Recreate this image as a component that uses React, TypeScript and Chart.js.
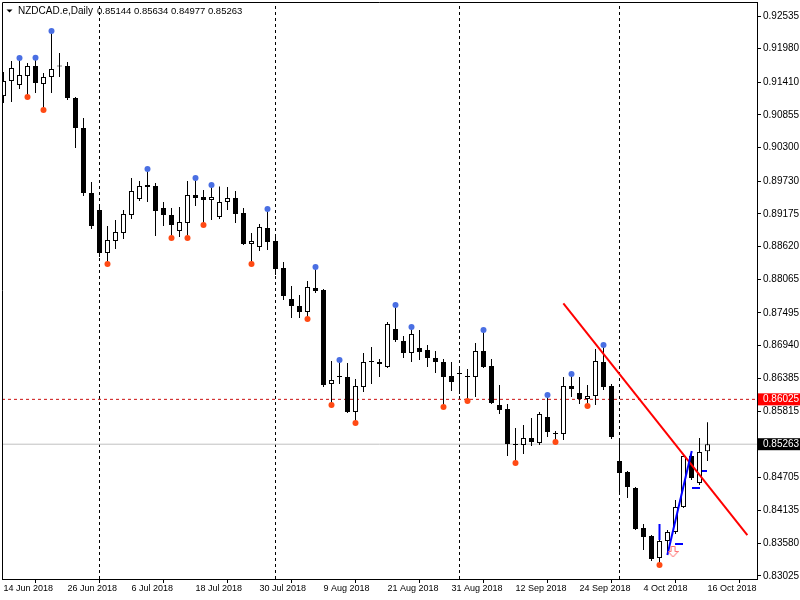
import React, { useEffect, useRef } from "react";
import { Chart, registerables } from "chart.js";

Chart.register(...registerables);

const symbolTitle = "NZDCAD.e,Daily";
const titleValues = "0.85144 0.85634 0.84977 0.85263";

const opens = [
  0.91176, 0.91431, 0.91363, 0.91516, 0.91686, 0.9138, 0.91499, 0.91694, 0.91686, 0.91142,
  0.90633, 0.89529, 0.8924, 0.8851, 0.88714, 0.8885, 0.89156, 0.89427, 0.89665, 0.89648,
  0.89274, 0.89156, 0.88884, 0.8902, 0.89495, 0.89461, 0.8941, 0.89122, 0.89376, 0.89444,
  0.8919, 0.88663, 0.88612, 0.88935, 0.88714, 0.88256, 0.87729, 0.8761, 0.87508, 0.87916,
  0.87882, 0.86286, 0.86404, 0.86404, 0.8581, 0.86235, 0.86659, 0.86659, 0.86574, 0.8722,
  0.87016, 0.86812, 0.86897, 0.86863, 0.86727, 0.86659, 0.86421, 0.86455, 0.86421, 0.86404,
  0.86846, 0.86591, 0.85929, 0.85861, 0.85267, 0.8525, 0.85369, 0.85284, 0.85725, 0.85454,
  0.85437, 0.86252, 0.86133, 0.86031, 0.86082, 0.86659, 0.86252, 0.84978, 0.84791, 0.84519,
  0.8384, 0.83704, 0.83331, 0.83619, 0.83772, 0.84197, 0.85063, 0.84604, 0.85144,
];
const highs = [
  0.91584, 0.91771, 0.91822, 0.91737, 0.91827, 0.91567, 0.9228, 0.91907, 0.91754, 0.91159,
  0.90803, 0.89716, 0.89308, 0.88969, 0.89071, 0.8924, 0.89784, 0.89733, 0.89937, 0.89699,
  0.89376, 0.89274, 0.89291, 0.89733, 0.89784, 0.8958, 0.89665, 0.8964, 0.89631, 0.89563,
  0.89274, 0.8885, 0.89003, 0.89257, 0.88799, 0.88357, 0.8795, 0.87797, 0.88035, 0.88273,
  0.87899, 0.86676, 0.86693, 0.86642, 0.8637, 0.86812, 0.86914, 0.8671, 0.87338, 0.87627,
  0.87101, 0.87254, 0.87203, 0.86948, 0.86846, 0.8671, 0.86659, 0.86557, 0.8654, 0.86982,
  0.87203, 0.8671, 0.86269, 0.85946, 0.85538, 0.85589, 0.85708, 0.8581, 0.86099, 0.85487,
  0.86404, 0.86455, 0.86404, 0.86269, 0.8688, 0.86948, 0.86286, 0.85318, 0.84808, 0.84536,
  0.83908, 0.83721, 0.83636, 0.83806, 0.84316, 0.8508, 0.85148, 0.85369, 0.85634,
];
const lows = [
  0.91058, 0.91074, 0.91295, 0.91159, 0.91227, 0.90939, 0.91227, 0.91499, 0.91108, 0.90293,
  0.89478, 0.88918, 0.88442, 0.88323, 0.88578, 0.88748, 0.89088, 0.89393, 0.89376, 0.88799,
  0.88969, 0.88765, 0.88782, 0.88765, 0.89308, 0.88986, 0.89071, 0.89088, 0.8924, 0.8902,
  0.88646, 0.88323, 0.88544, 0.88561, 0.88137, 0.87712, 0.87406, 0.87406, 0.87389, 0.87831,
  0.86235, 0.85929, 0.86286, 0.85793, 0.85623, 0.8615, 0.86286, 0.86404, 0.86557, 0.86999,
  0.86727, 0.86659, 0.86693, 0.86574, 0.86472, 0.85895, 0.86167, 0.86116, 0.85997, 0.86065,
  0.86557, 0.85946, 0.85776, 0.85063, 0.84944, 0.85097, 0.85233, 0.8525, 0.85386, 0.85301,
  0.85335, 0.86065, 0.85946, 0.85912, 0.85929, 0.86184, 0.85352, 0.84452, 0.8435, 0.83806,
  0.83467, 0.8328, 0.83212, 0.83399, 0.83738, 0.8418, 0.84655, 0.8457, 0.84977,
];
const closes = [
  0.91431, 0.91652, 0.91533, 0.91686, 0.91397, 0.91499, 0.91635, 0.91677, 0.91142, 0.90633,
  0.89529, 0.88969, 0.8851, 0.88731, 0.88867, 0.89173, 0.89563, 0.89648, 0.89631, 0.89223,
  0.89156, 0.88986, 0.89037, 0.89495, 0.89444, 0.8941, 0.89461, 0.89376, 0.89444, 0.89173,
  0.88663, 0.88714, 0.88952, 0.88697, 0.88239, 0.8778, 0.8761, 0.87508, 0.87933, 0.87865,
  0.86269, 0.86353, 0.86404, 0.8581, 0.86252, 0.86659, 0.86659, 0.86625, 0.87305, 0.87033,
  0.86812, 0.87135, 0.86829, 0.86727, 0.86659, 0.86404, 0.8632, 0.86455, 0.86404, 0.86846,
  0.86574, 0.85963, 0.85844, 0.85267, 0.8525, 0.85369, 0.85301, 0.85776, 0.8547, 0.85437,
  0.86252, 0.86201, 0.86031, 0.86082, 0.86676, 0.86235, 0.85386, 0.84774, 0.84536, 0.83823,
  0.83687, 0.83314, 0.83619, 0.83772, 0.84197, 0.85063, 0.84689, 0.85131, 0.85263,
];

const yTickValues = [
  0.92535, 0.9198, 0.9141, 0.90855, 0.903, 0.8973, 0.89175, 0.8862, 0.88065, 0.87495,
  0.8694, 0.86385, 0.86025, 0.85815, 0.85263, 0.84705, 0.84135, 0.8358, 0.83025,
];
const levelPrice = 0.86025;
const bidPrice = 0.85263;

const xTickIndex = [0, 8, 16, 24, 32, 40, 48, 56, 64, 72, 80, 88];
const xTickLabels = [
  "14 Jun 2018", "26 Jun 2018", "6 Jul 2018", "18 Jul 2018", "30 Jul 2018", "9 Aug 2018",
  "21 Aug 2018", "31 Aug 2018", "12 Sep 2018", "24 Sep 2018", "4 Oct 2018", "16 Oct 2018",
];
const monthStartIndex = [12, 34, 57, 77];

const upFractalIndex = [2, 4, 6, 18, 24, 26, 33, 39, 42, 49, 51, 60, 68, 71, 75];
const downFractalIndex = [3, 5, 13, 21, 23, 25, 31, 38, 41, 44, 55, 58, 64, 69, 73, 82];

const trendX = [69.98, 92.98];
const trendY = [0.87656, 0.83721];
const signalLineX = [82.98, 86.03];
const signalLineY = [0.83382, 0.85148];
const signalWickX = [82, 82];
const signalWickY = [0.83908, 0.83636];
const stopDashX = [
  [83.94, 84.94],
  [86.06, 87.06],
  [87.31, 87.94],
];
const stopDashY = [0.83568, 0.84519, 0.84808];
const arrowX = [83.69];
const arrowY = [0.83433];

const X_MIN = -0.1875;
const X_MAX = 94.1875;
const Y_MIN = 0.82974;
const Y_MAX = 0.92773;

const FONT = '"Liberation Sans", Arial, sans-serif';

function makeArrowImage(): HTMLCanvasElement {
  const c = document.createElement("canvas");
  c.width = 11;
  c.height = 12;
  const g = c.getContext("2d")!;
  g.beginPath();
  g.moveTo(3.5, 0.5);
  g.lineTo(7.5, 0.5);
  g.lineTo(7.5, 5.5);
  g.lineTo(10.5, 5.5);
  g.lineTo(5.5, 11);
  g.lineTo(0.5, 5.5);
  g.lineTo(3.5, 5.5);
  g.closePath();
  g.fillStyle = "#ffffff";
  g.fill();
  g.strokeStyle = "#ff6a6a";
  g.lineWidth = 1;
  g.stroke();
  return c;
}

const framePlugin = {
  id: "mtFrame",
  afterDraw(chart: any) {
    const { ctx, chartArea } = chart;
    ctx.save();
    ctx.strokeStyle = "#000";
    ctx.lineWidth = 1;
    ctx.beginPath();
    ctx.moveTo(chartArea.left + 0.5, chartArea.bottom);
    ctx.lineTo(chartArea.left + 0.5, chartArea.top + 0.5);
    ctx.lineTo(chartArea.right, chartArea.top + 0.5);
    ctx.stroke();
    ctx.fillStyle = "#000";
    ctx.beginPath();
    ctx.moveTo(6.5, 9.5);
    ctx.lineTo(12.5, 9.5);
    ctx.lineTo(9.5, 12.5);
    ctx.closePath();
    ctx.fill();
    ctx.textBaseline = "middle";
    ctx.textAlign = "left";
    ctx.font = `10px ${FONT}`;
    ctx.fillText(symbolTitle, 18, 11);
    ctx.font = `9.5px ${FONT}`;
    ctx.fillText(titleValues, 97, 11);
    ctx.restore();
  },
};

function lineDs(xs: number[], ys: number[], color: string, width: number, order: number, dash: number[] = []) {
  return {
    type: "line" as const,
    data: xs.map((x, i) => ({ x, y: ys[i] })),
    borderColor: color,
    borderWidth: width,
    borderDash: dash,
    pointRadius: 0,
    tension: 0,
    fill: false,
    order,
  };
}

function zeroPadding(s: any) {
  s.paddingLeft = 0;
  s.paddingRight = 0;
  s.paddingTop = 0;
  s.paddingBottom = 0;
}

export default function App() {
  const ref = useRef<HTMLCanvasElement | null>(null);

  useEffect(() => {
    if (!ref.current) return;
    const idx = opens.map((_, i) => i);
    const arrowImg = makeArrowImage();
    const special = (v: number) => v === levelPrice || v === bidPrice;

    const datasets: any[] = [
      ...monthStartIndex.map((m) => lineDs([m, m], [Y_MIN, Y_MAX], "#000000", 1, 22, [3, 3])),
      lineDs([X_MIN, X_MAX], [bidPrice, bidPrice], "#c0c0c0", 1, 20),
      lineDs([X_MIN, X_MAX], [levelPrice, levelPrice], "#cc1111", 1, 19, [3, 3]),
      {
        type: "bar",
        data: idx.map((i) => ({ x: i, y: [lows[i], highs[i]] })),
        backgroundColor: "#000",
        borderWidth: 0,
        barThickness: 1,
        maxBarThickness: 1,
        grouped: false,
        inflateAmount: 0,
        order: 18,
      },
      {
        type: "bar",
        data: idx.map((i) => ({ x: i, y: [opens[i], closes[i]] })),
        backgroundColor: idx.map((i) => (closes[i] >= opens[i] ? "#ffffff" : "#000000")),
        borderColor: "#000",
        borderWidth: 1,
        borderSkipped: false,
        barThickness: 5,
        maxBarThickness: 5,
        minBarLength: 1,
        grouped: false,
        inflateAmount: 0,
        order: 17,
      },
      lineDs(trendX, trendY, "#ff0000", 2, 10),
      lineDs(signalWickX, signalWickY, "#0000ff", 2, 9),
      lineDs(signalLineX, signalLineY, "#0000ff", 2, 9),
      ...stopDashX.map((xs, i) => lineDs(xs, [stopDashY[i], stopDashY[i]], "#0000ff", 2, 9)),
      {
        type: "line",
        data: upFractalIndex.map((i) => ({ x: i, y: highs[i] })),
        showLine: false,
        pointRadius: 3,
        pointBackgroundColor: "#4a6fe3",
        pointBorderWidth: 0,
        order: 5,
      },
      {
        type: "line",
        data: downFractalIndex.map((i) => ({ x: i, y: lows[i] })),
        showLine: false,
        pointRadius: 3,
        pointBackgroundColor: "#ff4a14",
        pointBorderWidth: 0,
        order: 5,
      },
      {
        type: "line",
        data: arrowX.map((x, i) => ({ x, y: arrowY[i] })),
        showLine: false,
        pointRadius: 6,
        pointStyle: arrowImg,
        order: 4,
      },
    ];

    const chart = new Chart(ref.current, {
      type: "bar",
      data: { datasets },
      plugins: [framePlugin],
      options: {
        animation: false,
        responsive: false,
        devicePixelRatio: 1,
        events: [],
        layout: { autoPadding: false, padding: { top: 2, left: 2, right: 0, bottom: 0 } },
        plugins: { legend: { display: false }, tooltip: { enabled: false }, title: { display: false } },
        scales: {
          x: {
            type: "linear",
            position: "bottom",
            min: X_MIN,
            max: X_MAX,
            offset: false,
            afterBuildTicks: (s: any) => {
              s.ticks = xTickIndex.map((v) => ({ value: v }));
            },
            afterFit: (s: any) => {
              s.height = 21;
              zeroPadding(s);
            },
            ticks: {
              autoSkip: false,
              maxRotation: 0,
              minRotation: 0,
              align: "start",
              padding: 0,
              color: "#000",
              font: { family: FONT, size: 9 },
              callback: (_v: any, i: number) => xTickLabels[i],
            },
            grid: { drawOnChartArea: false, drawTicks: true, tickLength: 4, color: "#000" },
            border: { display: true, color: "#000", width: 1 },
          },
          y: {
            type: "linear",
            position: "right",
            min: Y_MIN,
            max: Y_MAX,
            afterBuildTicks: (s: any) => {
              s.ticks = yTickValues.map((v) => ({ value: v }));
            },
            afterFit: (s: any) => {
              s.width = 43;
              zeroPadding(s);
            },
            ticks: {
              autoSkip: false,
              padding: 2,
              font: { family: FONT, size: 10 },
              color: (c: any) => (c.tick && special(c.tick.value) ? "#ffffff" : "#000000"),
              showLabelBackdrop: (c: any) => !!(c.tick && special(c.tick.value)),
              backdropColor: (c: any) =>
                c.tick && c.tick.value === levelPrice ? "#ff0000" : c.tick && c.tick.value === bidPrice ? "#000000" : "rgba(0,0,0,0)",
              backdropPadding: { left: 5, right: 6, top: 0, bottom: 0 },
              callback: (v: any) => Number(v).toFixed(5),
            },
            grid: { drawOnChartArea: false, drawTicks: true, tickLength: 4, color: "#000" },
            border: { display: true, color: "#000", width: 1 },
          },
        },
      } as any,
    });
    return () => chart.destroy();
  }, []);

  return (
    <div style={{ position: "fixed", left: 0, top: 0, width: 800, height: 600, background: "#fff" }}>
      <canvas ref={ref} width={800} height={600} style={{ display: "block" }} />
    </div>
  );
}
